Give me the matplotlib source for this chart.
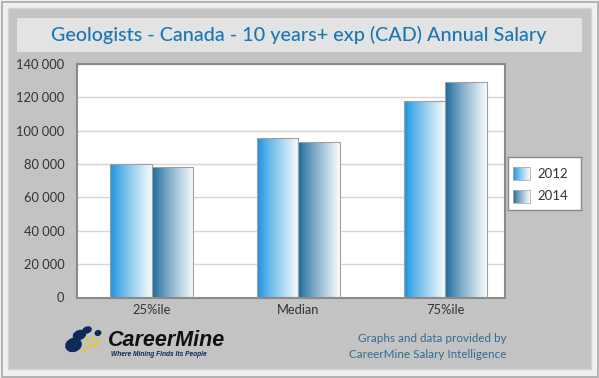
import numpy as np
import matplotlib
matplotlib.use("Agg")
import matplotlib.pyplot as plt
from matplotlib.patches import Rectangle, Ellipse
from matplotlib.colors import to_rgb

# data
categories = ["25%ile", "Median", "75%ile"]
years = ["2012", "2014"]
salary_2012 = [80000, 95500, 118000]
salary_2014 = [78000, 93000, 129000]
yticks = [0, 20000, 40000, 60000, 80000, 100000, 120000, 140000]

title = "Geologists - Canada - 10 years+ exp (CAD) Annual Salary"
colors = {"2012": "#1592de", "2014": "#17679a"}

plt.rcParams["font.family"] = ["Lato", "DejaVu Sans"]

W, H = 599, 378
fig = plt.figure(figsize=(W / 100, H / 100), dpi=100)
fig.patch.set_facecolor("#efefef")

# background decoration, in pixel coords
bg = fig.add_axes([0, 0, 1, 1])
bg.set_xlim(0, W)
bg.set_ylim(H, 0)
bg.axis("off")
bg.add_patch(Rectangle((1.5, 1.5), W - 3, H - 3, facecolor="#f0f0f0",
                       edgecolor="#a9a9a9", lw=1.2))
bg.add_patch(Rectangle((8, 8), W - 16, H - 17, facecolor="#c3c3c3",
                       edgecolor="#d4d4d4", lw=1))
bg.add_patch(Rectangle((17, 18), 565, 34, facecolor="#e3e3e3", edgecolor="none"))
bg.text(299, 35, title, ha="center", va="center", fontsize=14.2, color="#1b76b4",
        fontweight="medium")

# logo
navy = "#0c2b57"
yellow = "#f3c514"
for (cx, cy, w, h) in [(73.5, 345, 17, 14), (79.5, 335, 14, 10),
                       (87, 330, 10, 7), (98, 333, 7, 6)]:
    bg.add_patch(Ellipse((cx, cy), w, h, angle=-20, facecolor=navy, edgecolor="none"))
for (cx, cy) in [(87, 340), (93, 339), (98, 342), (90, 345), (85, 350), (95, 346)]:
    bg.add_patch(Ellipse((cx, cy), 3.5, 3.5, facecolor=yellow, edgecolor="none"))
bg.text(108, 341, "CareerMine", fontsize=15.5, fontweight="bold", style="italic",
        family="Liberation Sans", color="#111111", va="center", ha="left")
bg.text(111, 354, "Where Mining Finds Its People", fontsize=4.8, fontweight="bold",
        style="italic", family="Liberation Sans", color=navy, va="center", ha="left")
bg.text(506, 338, "Graphs and data provided by", fontsize=8.4, color="#2f6d8e",
        ha="right", va="center")
bg.text(506, 354, "CareerMine Salary Intelligence", fontsize=8.4, color="#2f6d8e",
        ha="right", va="center")


def gradient_img(color, n=64):
    c = np.array(to_rgb(color))
    t = np.linspace(0, 1, n) ** 0.85
    end = np.array([0.97, 0.985, 0.995])
    return (c[None, :] * (1 - t[:, None]) + end[None, :] * t[:, None])[None, :, :]


# main plot
ax = fig.add_axes([77 / W, (H - 297.5) / H, 428 / W, 233.5 / H])
ax.set_facecolor("white")
x = np.arange(len(categories))
bw = 0.283
for i, (yr, vals) in enumerate(zip(years, [salary_2012, salary_2014])):
    pos = x + (i - 0.5) * bw
    bars = ax.bar(pos, vals, width=bw, facecolor="none", edgecolor="#a0a0a0",
                  lw=0.8, zorder=3)
    for b in bars:
        im = ax.imshow(gradient_img(colors[yr]), aspect="auto", zorder=2,
                       extent=[b.get_x(), b.get_x() + b.get_width(), 0, b.get_height()])
        im.set_clip_path(b)

ax.set_xlim(-0.507, 2.405)
ax.set_ylim(0, 140000)
ax.set_yticks(yticks)
ax.set_yticklabels([f"{v:,}".replace(",", " ") for v in yticks])
ax.set_xticks(x)
ax.set_xticklabels(categories)
ax.tick_params(length=0, labelsize=9.3, colors="#333333")
ax.tick_params(axis="y", pad=9)
ax.tick_params(axis="x", pad=5)
ax.grid(axis="y", color="#d6d6d6", lw=1)
ax.set_axisbelow(True)
for s in ax.spines.values():
    s.set_color("#8a8a8a")
    s.set_linewidth(1.5)

# legend box
lg = fig.add_axes([508 / W, (H - 210) / H, 73 / W, 53 / H])
lg.set_xticks([])
lg.set_yticks([])
lg.set_facecolor("white")
for s in lg.spines.values():
    s.set_color("#8a8a8a")
    s.set_linewidth(1)
for j, yr in enumerate(years):
    y0 = 10 + j * 23
    lg.imshow(gradient_img(colors[yr]), aspect="auto", extent=[5, 22, y0 + 13, y0])
    lg.add_patch(Rectangle((5, y0), 17, 13, facecolor="none", edgecolor="#b0b0b0", lw=0.6))
    lg.text(29, y0 + 6.5, yr, fontsize=9.5, color="#333333", va="center", ha="left")
lg.set_xlim(0, 73)
lg.set_ylim(53, 0)

fig.savefig("out.png", dpi=100, facecolor=fig.get_facecolor())
